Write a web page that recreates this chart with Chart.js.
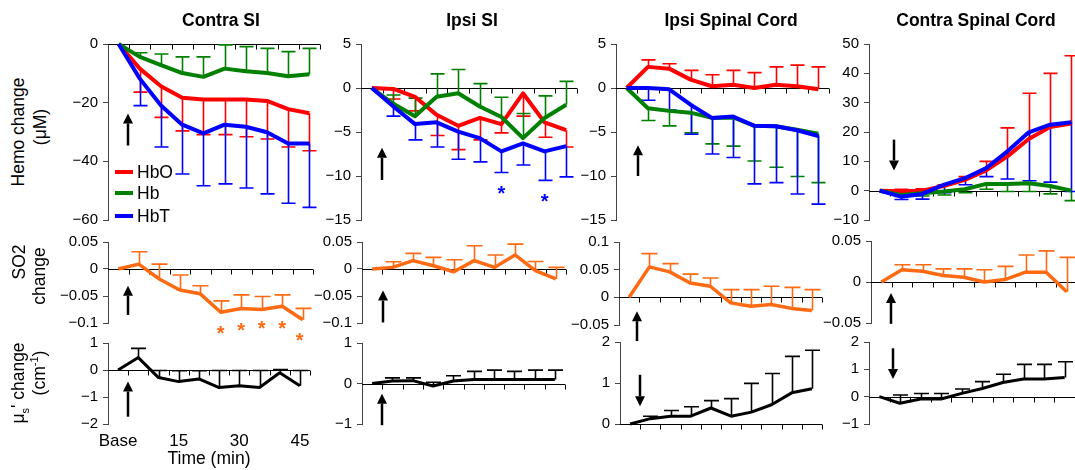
<!DOCTYPE html>
<html>
<head>
<meta charset="utf-8">
<script src="https://cdn.jsdelivr.net/npm/chart.js@4.4.0/dist/chart.umd.min.js"></script>
<style>
  body { margin: 0; width: 1075px; height: 470px; position: relative; overflow: hidden; background: #fff;
         font-family: 'Liberation Sans', Arial, sans-serif; color: #000; }
  canvas { position: absolute; }
  .ttl { position: absolute; z-index: 2; font-weight: bold; font-size: 17.5px; white-space: nowrap; transform: translate(-50%, -50%); }
  .ylab { position: absolute; z-index: 2; font-size: 17.5px; line-height: 20px; white-space: nowrap; transform: translate(-50%, -50%) rotate(-90deg); }
  .ylab sub, .ylab sup { font-size: 11px; line-height: 0; }
  .leg { position: absolute; z-index: 2; left: 115px; font-size: 17.5px; line-height: 20px; display: flex; align-items: center; transform: translateY(-50%); }
  .leg i { display: inline-block; width: 18px; height: 4px; margin-right: 4px; }
</style>
</head>
<body>
<div class="ttl" style="left:221px;top:20px">Contra SI</div>
<div class="ttl" style="left:472px;top:20px">Ipsi SI</div>
<div class="ttl" style="left:731px;top:20px">Ipsi Spinal Cord</div>
<div class="ttl" style="left:976px;top:20px">Contra Spinal Cord</div>

<div class="ylab" style="left:18px;top:132px">Hemo change</div>
<div class="ylab" style="left:40px;top:127px">(μM)</div>
<div class="ylab" style="left:19px;top:262px">SO2</div>
<div class="ylab" style="left:39px;top:276px">change</div>
<div class="ylab" style="left:18px;top:383px">μ<sub>s</sub>' change</div>
<div class="ylab" style="left:39px;top:373px">(cm<sup>-1</sup>)</div>

<div class="leg" style="top:172px"><i style="background:#ff0000"></i>HbO</div>
<div class="leg" style="top:193px"><i style="background:#008000"></i>Hb</div>
<div class="leg" style="top:216px"><i style="background:#0000ff"></i>HbT</div>

<script>
const times = ['Base', '5', '10', '15', '20', '25', '30', '35', '40', '45'];

// hemoglobin change (uM); *Err = signed error bar length
const hboContraSI    = [0, -8.4, -14.4, -18.3, -18.9, -18.9, -18.9, -19.4, -22.2, -23.6];
const hboContraSIErr = [0, -8.0, -10.6, -11.3, -12.0, -12.0, -12.7, -13.0, -12.9, -12.8];
const hbContraSI     = [0, -4.4, -7.2, -9.9, -11.2, -8.4, -9.3, -9.9, -11.0, -10.3];
const hbContraSIErr  = [0, 1.4, 3.8, 5.5, 6.8, 8.1, 8.4, 8.4, 8.4, 8.8];
const hbtContraSI    = [0, -11.8, -21.0, -27.5, -30.5, -27.5, -28.2, -30.1, -33.9, -33.9];
const hbtContraSIErr = [0, -9.2, -14.1, -16.8, -17.8, -20.2, -20.9, -21.0, -20.4, -21.8];

const hboIpsiSI    = [0, -0.1, -1.0, -3.05, -4.3, -3.4, -4.1, -0.6, -3.9, -4.8];
const hboIpsiSIErr = [0, -1.15, -1.6, -2.35, -2.7, -2.5, -1.0, -2.6, -1.7, -1.9];
const hbIpsiSI     = [0, -1.8, -3.2, -1.0, -0.6, -2.1, -3.3, -5.7, -3.4, -1.9];
const hbIpsiSIErr  = [0, 1.0, 2.05, 2.6, 2.7, 2.6, 2.25, 2.8, 2.5, 2.65];
const hbtIpsiSI    = [0, -2.1, -4.1, -3.9, -4.95, -5.7, -7.2, -6.3, -7.2, -6.6];
const hbtIpsiSIErr = [0, -1.1, -1.8, -2.8, -3.15, -2.7, -2.4, -2.45, -3.3, -3.5];

const hboIpsiSC    = [0, 2.4, 2.2, 0.95, 0.2, 0.37, 0, 0.37, 0.2, -0.15];
const hboIpsiSCErr = [0, 0.8, 0.55, 1.05, 1.3, 1.63, 1.75, 2.03, 2.4, 2.55];
const hbIpsiSC     = [0, -2.3, -2.6, -2.8, -3.4, -3.35, -4.3, -4.35, -4.75, -5.2];
const hbIpsiSCErr  = [0, -1.4, -1.7, -2.3, -2.95, -3.25, -4.0, -4.65, -5.3, -5.55];
const hbtIpsiSC    = [0, 0, -0.15, -1.9, -3.4, -3.25, -4.3, -4.35, -4.8, -5.45];
const hbtIpsiSCErr = [0, -1.4, -2.35, -3.35, -4.1, -4.65, -6.6, -6.4, -7.25, -7.75];

const hboContraSC    = [0, -0.2, 0, 1.6, 3.7, 6.9, 11.7, 17.6, 21.7, 22.9];
const hboContraSCErr = [0, 0.7, 0.6, 0.4, 1.1, 3.1, 9.7, 15.6, 18.3, 23.1];
const hbContraSC     = [0, -1.5, -0.9, -0.3, 0.5, 2.3, 2.3, 2.5, 1.6, 0];
const hbContraSCErr  = [0, -0.5, -0.9, -1.2, -1.2, -1.8, -2.6, -2.8, -2.7, -3.4];
const hbtContraSC    = [0, -2.05, -1.1, 2.0, 4.25, 7.7, 13.4, 19.9, 22.5, 23.3];
const hbtContraSCErr = [0, -0.95, -1.8, -2.7, -2.25, -2.9, -9.4, -16.5, -19.6, -23.6];

// oxygen saturation change
const so2ContraSI    = [0, 0.009, -0.0185, -0.039, -0.046, -0.080, -0.073, -0.075, -0.069, -0.094];
const so2ContraSIErr = [0, 0.023, 0.0275, 0.028, 0.015, 0.021, 0.025, 0.024, 0.021, 0.021];
const so2IpsiSI      = [0, 0.003, 0.0155, 0.006, -0.005, 0.0155, 0.003, 0.026, -0.003, -0.0185];
const so2IpsiSIErr   = [0, 0.0105, 0.0135, 0.0155, 0.022, 0.0275, 0.023, 0.020, 0.017, 0.0215];
const so2IpsiSC      = [0, 0.055, 0.046, 0.026, 0.020, -0.010, -0.016, -0.013, -0.020, -0.024];
const so2IpsiSCErr   = [0, 0.024, 0.015, 0.016, 0.015, 0.024, 0.030, 0.033, 0.038, 0.038];
const so2ContraSC    = [0, 0.015, 0.013, 0.008, 0.0057, 0, 0.003, 0.012, 0.012, -0.012];
const so2ContraSCErr = [0, 0.006, 0.008, 0.008, 0.0103, 0.015, 0.016, 0.021, 0.026, 0.042];

// reduced scattering change (1/cm)
const musContraSI    = [0, 0.46, -0.28, -0.43, -0.33, -0.65, -0.58, -0.65, -0.1, -0.58];
const musContraSIErr = [0, 0.34, 0.26, 0.40, 0.30, 0.63, 0.56, 0.63, 0.12, 0.56];
const musIpsiSI      = [0, 0.06, 0.07, -0.06, 0.06, 0.1, 0.1, 0.1, 0.1, 0.1];
const musIpsiSIErr   = [0, 0.08, 0.07, 0.09, 0.13, 0.2, 0.23, 0.2, 0.23, 0.23];
const musIpsiSC      = [0, 0.13, 0.19, 0.19, 0.39, 0.19, 0.29, 0.47, 0.76, 0.86];
const musIpsiSCErr   = [0, 0.06, 0.14, 0.23, 0.18, 0.43, 0.7, 0.76, 0.89, 0.94];
const musContraSC    = [0, -0.24, -0.085, -0.085, 0.12, 0.30, 0.52, 0.65, 0.65, 0.70];
const musContraSCErr = [0, 0.30, 0.2, 0.2, 0.16, 0.25, 0.30, 0.53, 0.53, 0.58];

const RED = '#ff0000', GREEN = '#008000', BLUE = '#0000ff', ORANGE = '#ff6a13', BLACK = '#000000';
const FONT = "'Liberation Sans', Arial, sans-serif";
const Y_W = 52, PAD = 22, PAD_R = 10;

Chart.defaults.font.family = FONT;
Chart.defaults.color = '#000';

// area = chart area [left, top, right, bottom] on the page; y = [min, max, step]
// arrows = [index, tail value, tip value]; stars = [index, value, colour]
const panels = [
  { area: [108, 44, 320, 219.5], y: [-60, 0, 20], lw: 4, cap: 7,
    series: [[hboContraSI, hboContraSIErr, RED], [hbContraSI, hbContraSIErr, GREEN], [hbtContraSI, hbtContraSIErr, BLUE]],
    arrows: [[0.44, -34.6, -23.7]], stars: [] },
  { area: [361, 44, 577, 219.5], y: [-15, 5, 5], lw: 4, cap: 7,
    series: [[hboIpsiSI, hboIpsiSIErr, RED], [hbIpsiSI, hbIpsiSIErr, GREEN], [hbtIpsiSI, hbtIpsiSIErr, BLUE]],
    arrows: [[0.46, -10.45, -6.8]], stars: [[6, -11.6, BLUE], [8, -12.5, BLUE]] },
  { area: [616, 44, 829, 219.5], y: [-15, 5, 5], lw: 4, cap: 7,
    series: [[hboIpsiSC, hboIpsiSCErr, RED], [hbIpsiSC, hbIpsiSCErr, GREEN], [hbtIpsiSC, hbtIpsiSCErr, BLUE]],
    arrows: [[0.55, -10.0, -6.5]], stars: [] },
  { area: [869, 44, 1082, 219.5], y: [-10, 50, 10], lw: 4, cap: 7,
    series: [[hboContraSC, hboContraSCErr, RED], [hbContraSC, hbContraSCErr, GREEN], [hbtContraSC, hbtContraSCErr, BLUE]],
    arrows: [[0.67, 17.4, 6.9]], stars: [] },

  { area: [108, 242, 313, 323], y: [-0.1, 0.05, 0.05], lw: 3.5, cap: 8,
    series: [[so2ContraSI, so2ContraSIErr, ORANGE]],
    arrows: [[0.49, -0.085, -0.031]],
    stars: [[5, -0.114, ORANGE], [6, -0.108, ORANGE], [7, -0.105, ORANGE], [8, -0.105, ORANGE], [8.85, -0.127, ORANGE]] },
  { area: [362, 242, 566, 323], y: [-0.1, 0.05, 0.05], lw: 3.5, cap: 8,
    series: [[so2IpsiSI, so2IpsiSIErr, ORANGE]], arrows: [[0.53, -0.099, -0.040]], stars: [] },
  { area: [619, 242, 822, 325], y: [-0.05, 0.1, 0.05], lw: 3.5, cap: 8,
    series: [[so2IpsiSC, so2IpsiSCErr, ORANGE]], arrows: [[0.39, -0.079, -0.025]], stars: [] },
  { area: [871, 241, 1077, 323], y: [-0.05, 0.05, 0.05], lw: 3.5, cap: 8,
    series: [[so2ContraSC, so2ContraSCErr, ORANGE]], arrows: [[0.49, -0.051, -0.0134]], stars: [] },

  { area: [108, 343, 310, 424], y: [-2, 1, 1], lw: 3, cap: 7.5, xLabels: true,
    series: [[musContraSI, musContraSIErr, BLACK]], arrows: [[0.5, -1.73, -0.43]], stars: [] },
  { area: [362, 343, 565, 424], y: [-1, 1, 1], lw: 3, cap: 7.5,
    series: [[musIpsiSI, musIpsiSIErr, BLACK]], arrows: [[0.49, -1.03, -0.25]], stars: [] },
  { area: [620, 342, 822, 424], y: [0, 2, 1], lw: 3, cap: 7.5,
    series: [[musIpsiSC, musIpsiSCErr, BLACK]], arrows: [[0.49, 1.2, 0.43]], stars: [] },
  { area: [869, 342, 1075, 424], y: [-1, 2, 1], lw: 3, cap: 7.5,
    series: [[musContraSC, musContraSCErr, BLACK]], arrows: [[0.67, 1.77, 0.65]], stars: [] }
];

const fmt = v => String(Number(v.toFixed(4))).replace('-', '\u2212');

function drawArrow(ctx, x, yTail, yTip) {
  const dir = yTip < yTail ? -1 : 1;
  const head = 10;
  ctx.beginPath();
  ctx.moveTo(x, yTail);
  ctx.lineTo(x, yTip - dir * head);
  ctx.stroke();
  ctx.beginPath();
  ctx.moveTo(x, yTip);
  ctx.lineTo(x - 5, yTip - dir * head);
  ctx.lineTo(x + 5, yTip - dir * head);
  ctx.closePath();
  ctx.fill();
}

// zero axis, error bars, arrows and significance stars
function extrasPlugin(p) {
  return {
    id: 'extras',
    beforeDatasetsDraw(chart) {
      const { ctx, chartArea: a } = chart;
      const x = chart.scales.x, y = chart.scales.y;
      const y0 = Math.round(y.getPixelForValue(0)) + 0.5;
      ctx.save();
      ctx.strokeStyle = '#000';
      ctx.lineWidth = 1;
      ctx.beginPath();
      ctx.moveTo(a.left, y0);
      ctx.lineTo(a.right, y0);
      const step = (a.right - a.left) / times.length;
      for (let k = 1; k <= times.length; k++) {
        const tx = Math.round(a.left + k * step) + 0.5;
        ctx.moveTo(tx, y0);
        ctx.lineTo(tx, y0 + 5);
      }
      ctx.stroke();

      p.series.forEach(([vals, errs, color]) => {
        ctx.strokeStyle = color;
        ctx.lineWidth = 1.6;
        ctx.beginPath();
        vals.forEach((v, i) => {
          if (!errs[i]) return;
          const px = Math.round(x.getPixelForValue(i)) + 0.5;
          const y1 = y.getPixelForValue(v);
          const y2 = y.getPixelForValue(v + errs[i]);
          ctx.moveTo(px, y1);
          ctx.lineTo(px, y2);
          ctx.moveTo(px - p.cap, y2);
          ctx.lineTo(px + p.cap, y2);
        });
        ctx.stroke();
      });
      ctx.restore();
    },
    afterDatasetsDraw(chart) {
      const { ctx } = chart;
      const x = chart.scales.x, y = chart.scales.y;
      ctx.save();
      ctx.strokeStyle = '#000';
      ctx.fillStyle = '#000';
      ctx.lineWidth = 2.5;
      p.arrows.forEach(([i, from, to]) => {
        drawArrow(ctx, Math.round(x.getPixelForValue(i)), y.getPixelForValue(from), y.getPixelForValue(to));
      });
      ctx.font = 'bold 20px ' + FONT;
      ctx.textAlign = 'center';
      ctx.textBaseline = 'middle';
      p.stars.forEach(([i, v, color]) => {
        ctx.fillStyle = color;
        ctx.fillText('*', x.getPixelForValue(i), y.getPixelForValue(v) + 4);
      });
      ctx.restore();
    }
  };
}

function makePanel(p) {
  const [L, T, R, B] = p.area;
  const w = Math.round(R - L), h = Math.round(B - T);
  const axisH = p.xLabels ? 46 : 0;
  const padB = p.xLabels ? 0 : PAD;
  const cv = document.createElement('canvas');
  cv.width = w + Y_W + PAD_R;
  cv.height = h + PAD + padB + axisH;
  cv.style.left = (Math.round(L) - Y_W) + 'px';
  cv.style.top = (Math.round(T) - PAD) + 'px';
  document.body.appendChild(cv);

  const xScale = p.xLabels ? {
    display: true,
    offset: true,
    grid: { display: false, drawTicks: false },
    border: { display: false },
    ticks: {
      autoSkip: false, maxRotation: 0, padding: 7, font: { size: 17 },
      callback: (v, i) => (i % 3 === 0 ? times[i] : '')
    },
    title: { display: true, text: 'Time (min)', font: { size: 17.5 }, padding: 0 },
    afterFit: s => { s.height = axisH; }
  } : { display: false, offset: true };

  new Chart(cv, {
    type: 'line',
    data: {
      labels: times,
      datasets: p.series.map(([vals, , color], i) => ({
        data: vals,
        borderColor: color,
        backgroundColor: color,
        borderWidth: p.lw,
        borderJoinStyle: 'round',
        pointRadius: 0,
        tension: 0,
        clip: false,
        order: p.series.length - i
      }))
    },
    options: {
      responsive: false,
      animation: false,
      devicePixelRatio: 1,
      layout: { padding: { top: PAD, bottom: padB, left: 0, right: PAD_R } },
      plugins: { legend: { display: false }, tooltip: { enabled: false } },
      scales: {
        x: xScale,
        y: {
          min: p.y[0], max: p.y[1],
          ticks: { stepSize: p.y[2], padding: 5, font: { size: 15 }, color: '#000', callback: v => fmt(v) },
          grid: { drawOnChartArea: false, tickLength: 5, color: '#444' },
          border: { color: '#444' },
          afterFit: s => { s.width = Y_W; }
        }
      }
    },
    plugins: [extrasPlugin(p)]
  });
}

panels.forEach(makePanel);
</script>
</body>
</html>
